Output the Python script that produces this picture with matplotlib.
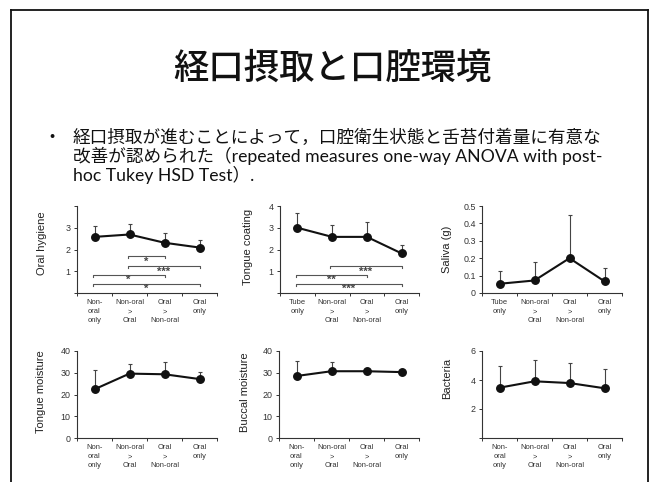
import matplotlib
matplotlib.use("Agg")
import matplotlib.pyplot as plt
from matplotlib.lines import Line2D

W, H = 659, 482

title = "経口摂取と口腔環境"
bullet_lines = [
    "経口摂取が進むことによって，口腔衛生状態と舌苔付着量に有意な",
    "改善が認められた（repeated measures one-way ANOVA with post-",
    "hoc Tukey HSD Test）.",
]

cats_nonoral = ["Non-\noral\nonly", "Non-oral\n>\nOral", "Oral\n>\nNon-oral", "Oral\nonly"]
cats_tube = ["Tube\nonly", "Non-oral\n>\nOral", "Oral\n>\nNon-oral", "Oral\nonly"]

oral_hygiene_mean = [2.58, 2.69, 2.31, 2.09]
oral_hygiene_sd = [0.51, 0.48, 0.46, 0.34]
tongue_coating_mean = [3.0, 2.58, 2.58, 1.82]
tongue_coating_sd = [0.69, 0.54, 0.68, 0.38]
saliva_mean = [0.053, 0.072, 0.2, 0.067]
saliva_sd = [0.074, 0.108, 0.25, 0.078]
tongue_moisture_mean = [22.4, 29.6, 29.3, 27.1]
tongue_moisture_sd = [8.9, 4.3, 5.5, 3.4]
buccal_moisture_mean = [28.5, 30.7, 30.7, 30.3]
buccal_moisture_sd = [7.1, 4.1, 1.0, 0.5]
bacteria_mean = [3.47, 3.91, 3.79, 3.43]
bacteria_sd = [1.5, 1.45, 1.41, 1.35]

oral_hygiene_sig = [(1, 2, 1.71, "*"), (1, 3, 1.25, "***"), (0, 2, 0.85, "*"), (0, 3, 0.43, "*")]
tongue_coating_sig = [(1, 3, 1.25, "***"), (0, 2, 0.85, "**"), (0, 3, 0.43, "***")]

yt_oh = [0, 1, 2, 3, 4]
yl_oh = ["", "1", "2", "3", ""]
yt_tc = [0, 1, 2, 3, 4]
yl_tc = ["", "1", "2", "3", "4"]
yt_sa = [0, 0.1, 0.2, 0.3, 0.4, 0.5]
yl_sa = ["0", "0.1", "0.2", "0.3", "0.4", "0.5"]
yt_m = [0, 10, 20, 30, 40]
yl_m = ["0", "10", "20", "30", "40"]
yt_b = [0, 2, 4, 6]
yl_b = ["", "2", "4", "6"]

AX_FONT = ["Liberation Sans", "DejaVu Sans"]
CJK = ["Noto Sans CJK JP", "DejaVu Sans"]
BODY = ["Lato", "Noto Sans CJK JP", "DejaVu Sans"]

fig = plt.figure(figsize=(W / 100, H / 100), dpi=100)
fig.patch.set_facecolor("white")


def fx(x):
    return x / W


def fy(y):
    return 1 - y / H


# slide border
for xs, ys in [((11, 11), (9.5, H + 5)), ((10.5, 647.5), (9.5, 9.5)), ((647.5, 647.5), (9.5, H + 5))]:
    fig.add_artist(Line2D([fx(v) for v in xs], [fy(v) for v in ys], color="#111111", lw=1.3))

fig.text(fx(332), fy(69), title, family=CJK, fontsize=25.5, fontweight="medium", ha="center",
         va="center", color="#111111")
fig.text(fx(52), fy(137), "•", family=CJK, fontsize=11, ha="center", va="center", color="#111111")
for i, line in enumerate(bullet_lines):
    fig.text(fx(73), fy(137 + 19 * i), line, family=BODY, fontsize=12.7, ha="left", va="center",
             color="#111111")


def panel(x0, x1, ytop, ybot, mean, sd, cats, yticks, ylabels, ylim, ylabel, lab_off, lab_y=0.5, sig=None):
    ax = fig.add_axes([fx(x0), fy(ybot), fx(x1) - fx(x0), fy(ytop) - fy(ybot)])
    n = len(mean)
    xs = [i + 0.5 for i in range(n)]
    ax.errorbar(xs, mean, yerr=[[0] * n, sd], fmt="none", ecolor="#444444", elinewidth=0.8,
                capsize=1.6, capthick=0.8, zorder=2)
    ax.plot(xs, mean, color="#111111", lw=1.5, marker="o", markersize=5.4, zorder=3)
    ax.set_xlim(0, n)
    ax.set_ylim(*ylim)
    ax.set_xticks(range(n + 1))
    ax.set_xticklabels([])
    ax.set_xticks(xs, minor=True)
    ax.set_xticklabels(cats, minor=True, fontsize=5.4, family=AX_FONT, linespacing=1.4, color="#333333")
    ax.tick_params(axis="x", which="minor", length=0, pad=4.5)
    ax.tick_params(axis="x", which="major", length=2.5, width=0.7, color="#333333", direction="out")
    ax.set_yticks(yticks)
    ax.set_yticklabels(ylabels, fontsize=6.4, family=AX_FONT, color="#333333")
    ax.tick_params(axis="y", length=2.5, width=0.7, color="#333333", pad=2, direction="out")
    for s in ("top", "right"):
        ax.spines[s].set_visible(False)
    for s in ("left", "bottom"):
        ax.spines[s].set_color("#333333")
        ax.spines[s].set_linewidth(0.8)
    ax.text(-lab_off / (x1 - x0), lab_y, ylabel, transform=ax.transAxes, rotation=90, ha="center",
            va="center", fontsize=8, family=AX_FONT, color="#222222")
    if sig:
        d = (ylim[1] - ylim[0]) * 0.025
        for i, j, y, lab in sig:
            xa, xb = xs[i] - 0.05, xs[j]
            ax.plot([xa, xa, xb, xb], [y - d, y, y, y - d], color="#555555", lw=0.8, zorder=1)
            ax.text((xa + xb) / 2, y - d * 0.3, lab, ha="center", va="top", fontsize=8,
                    fontweight="bold", family=AX_FONT, color="#444444")
    ax.patch.set_alpha(0)
    return ax


panel(77, 217, 206, 293, oral_hygiene_mean, oral_hygiene_sd, cats_nonoral, yt_oh, yl_oh, (0, 4),
      "Oral hygiene", 35, 0.57, oral_hygiene_sig)
panel(280, 419, 206, 293, tongue_coating_mean, tongue_coating_sd, cats_tube, yt_tc, yl_tc, (0, 4),
      "Tongue coating", 32, 0.53, tongue_coating_sig)
panel(482, 622, 206, 293, saliva_mean, saliva_sd, cats_tube, yt_sa, yl_sa, (0, 0.5),
      "Saliva (g)", 35, 0.5)
panel(77, 217, 351, 438, tongue_moisture_mean, tongue_moisture_sd, cats_nonoral, yt_m, yl_m, (0, 40),
      "Tongue moisture", 36, 0.53)
panel(279, 419, 351, 438, buccal_moisture_mean, buccal_moisture_sd, cats_nonoral, yt_m, yl_m, (0, 40),
      "Buccal moisture", 34, 0.53)
panel(482, 622, 351, 438, bacteria_mean, bacteria_sd, cats_nonoral, yt_b, yl_b, (0, 6),
      "Bacteria", 35, 0.68)

fig.savefig("out.png", dpi=100)
